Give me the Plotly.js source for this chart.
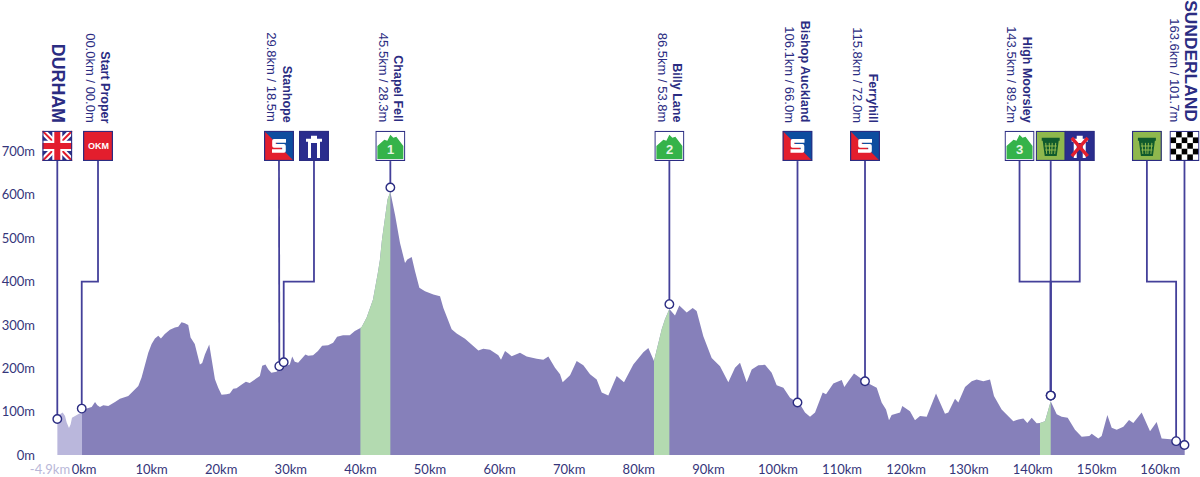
<!DOCTYPE html>
<html>
<head>
<meta charset="utf-8">
<script src="https://cdn.plot.ly/plotly-3.0.1.min.js"></script>
<style>
  html, body {margin: 0; padding: 0; background: #fff;}
  #profile {width: 1200px; height: 477px;}
</style>
</head>
<body>
<div id="profile"></div>
<script>
// route profile: x = position on the axis in km, y = metres
var km = [-3.54,-3.16,-2.78,-2.44,-2.2,-1.87,-1.63,-1.44,-1,-0.53,0,0.67,1.39,1.87,2.2,2.58,3.06,3.78,4.74,5.45,6.65,7.6,8.09,8.56,9.04,9.52,10,10.48,10.96,11.34,11.9,12.63,13.35,13.83,14.3,14.78,15.26,15.6,16.2,16.6,16.94,17.27,17.66,18.28,18.6,19.1,19.57,20.05,20.77,21.24,21.72,22.2,22.9,23.54,24.1,24.83,25.55,25.89,26.36,26.75,27.2,27.94,28.66,29.38,29.86,30.2,30.57,31.05,31.53,32.1,32.5,33.2,33.9,34.5,35.36,36.08,36.65,37.5,38.47,39.2,40,40.2,40.9,41.8,42.5,42.8,43.1,43.5,43.9,44.3,45,45.69,46.41,46.74,47.37,47.85,48.47,49.28,50.48,51.44,51.92,53.11,53.83,55.03,55.99,56.95,57.66,58.62,59.82,60.2,60.78,61.73,62.93,63.89,65.33,66.28,67,67.96,68.68,69.06,70.12,71.07,72.03,72.99,73.95,74.67,75.62,76.82,77.87,79.21,80.65,81.37,82.18,82.81,83.29,83.76,84.39,85.2,85.82,86.88,87.74,88.31,89.27,90.47,91.67,92.86,93.82,94.54,95.5,96.22,97.18,98.13,99.09,99.81,100.77,101.73,103.16,103.88,104.6,105.32,106.42,106.9,107.95,109.15,109.53,110.1,110.92,111.78,112.74,114.18,114.89,115.52,115.95,116.33,117.53,117.86,118.96,119.68,120.4,121.36,122.7,123.99,124.47,125.43,125.91,126.87,127.83,128.54,129.5,130.46,131.03,132.13,133.81,134.53,135.25,135.82,136.45,137.16,137.64,138.36,138.84,139.18,140.04,140.76,141.62,142.67,143.63,144.73,145.07,146.02,146.5,147.32,147.94,148.66,149.62,150.43,151.05,152.25,153.45,154.4,155.12,156.8,157.52,158.43];
var elevation = [82,94,98,90,75,62,71,86,90,94,99,107,111,122,115,111,115,113,122,130,136,150,159,179,209,236,256,269,275,269,279,289,294,296,306,304,300,271,256,232,209,212,232,255,221,175,155,139,140,142,153,154,162,169,166,175,182,206,209,198,190,192,202,206,209,227,215,213,221,232,229,230,240,252,253,259,273,276,276,286,293,296,317,358,420,450,497,550,590,607,552,489,443,451,457,424,386,378,370,366,339,290,280,268,254,241,245,243,230,220,240,228,236,227,222,220,227,201,186,168,184,217,207,186,174,144,137,182,168,209,237,247,217,259,290,313,337,322,345,329,339,332,274,224,205,168,201,213,168,197,207,208,190,161,155,132,117,98,88,98,144,140,165,173,157,170,188,178,167,155,121,105,80,92,98,113,101,80,90,88,142,95,98,130,121,157,170,174,170,174,136,105,78,82,84,74,86,73,74,78,105,124,94,88,86,58,42,44,49,38,44,92,63,58,65,81,74,98,55,76,38,36,31,21];

var neutralRange = [-3.54, 0];
var climbRanges = [[40, 44.3], [82.18, 84.39], [137.64, 139.18]];

// axis ticks: the printed 10km steps tighten after 100km in the source graphic
var tickPos = [-4.6,0.3,10,20,30,40,50,60,70,80,90,100,109.2,118.4,127.4,136.6,145.8,154.9];
var tickText = ['-4.9km','0km','10km','20km','30km','40km','50km','60km','70km','80km','90km','100km','110km','120km','130km','140km','150km','160km'];
var yTicks = [0,100,200,300,400,500,600,700];
var yTickText = ['0m','100m','200m','300m','400m','500m','600m','700m'];

// waypoints: where the flag sits on the axis, where its circle sits on the profile
var iconKm =  [-3.55,2.3,28.3,33.33,44.3,84.39,102.8,112.5,134.7,139.18,143.35,153,158.4];
var pointKm = [-3.55,-0.04,28.35,28.98,44.3,84.39,102.8,112.5,139.18,139.18,139.18,157.2,158.4];
var pointM =  [83,107,205,214,617,348,121,170,137,137,137,32,23];
var iconKind = ['flag','okm','sprint','tunnel','climb','climb','sprint','sprint','climb','feed','noTunnel','feed','finish'];
var climbCat = {4: '1', 5: '2', 8: '3'};

var placeNames = ['Start Proper','Stanhope','Chapel Fell','Billy Lane','Bishop Auckland','Ferryhill','High Moorsley'];
var placeDist = ['00.0km / 00.0m','29.8km / 18.5m','45.5km / 28.3m','86.5km / 53.8m','106.1km / 66.0m','115.8km / 72.0m','143.5km / 89.2m'];
var placeIcon = [1,2,4,5,6,7,8];

var NAVY = '#2b2c82', LINE = '#44409a', PURPLE = '#8680ba', GREEN = '#b3dab0', NEUTRAL = '#bab7dc';
var TICK = '#35357a';
var ELBOW = 400, ICON_TOP = 748, ICON_BOTTOM = 678, LABEL_Y = 762;

function section(range, color) {
   var x = [], y = [];
   for (var i = 0; i < km.length; i++) {
      if (km[i] >= range[0] && km[i] <= range[1]) {x.push(km[i]); y.push(elevation[i]);}
   }
   return {x: x, y: y, type: 'scatter', mode: 'lines', fill: 'tozeroy', fillcolor: color,
           line: {width: 0, color: color}, hoverinfo: 'skip'};
}

var traces = [];
traces.push(section([0, 158.43], PURPLE));
traces.push(section(neutralRange, NEUTRAL));
climbRanges.forEach(function (r) {traces.push(section(r, GREEN));});

// leader lines from each flag down to the profile
for (var i = 0; i < iconKm.length; i++) {
   var lx, ly;
   if (iconKm[i] === pointKm[i]) {
      lx = [iconKm[i], pointKm[i]];
      ly = [ICON_BOTTOM, pointM[i]];
   } else {
      lx = [iconKm[i], iconKm[i], pointKm[i], pointKm[i]];
      ly = [ICON_BOTTOM, ELBOW, ELBOW, pointM[i]];
   }
   traces.push({x: lx, y: ly, type: 'scatter', mode: 'lines', line: {color: LINE, width: 1.8}, hoverinfo: 'skip'});
}
traces.push({x: pointKm, y: pointM, type: 'scatter', mode: 'markers',
             marker: {size: 8.5, color: '#fff', line: {color: NAVY, width: 1.4}}, hoverinfo: 'skip'});

var arch = '<path d="M9 27V11H7V8H12V5H18V8H23V11H21V27H18V12H12V27Z" fill="#fff"/>';
var bin = '<path d="M6 7H24V10H23L21 25H9L7 10H6Z" fill="#0f5a2c"/>' +
          '<path d="M10 12L11 23M13.5 12L14 23M16.5 12L16 23M20 12L19 23M9 15H21M9.5 19H20.5" stroke="#8fb84d" stroke-width="1" fill="none"/>';
var sprintS = '<path d="M22 10H10V15H20V20H8" stroke="#fff" stroke-width="3.6" fill="none" stroke-linejoin="round"/>';

function checker() {
   var s = '<rect width="30" height="30" fill="#fff"/>';
   for (var r = 0; r < 5; r++) {
      for (var c = 0; c < 5; c++) {
         if ((r + c) % 2 === 1) {s += '<rect x="' + (1 + c * 5.6) + '" y="' + (1 + r * 5.6) + '" width="5.6" height="5.6" fill="#000"/>';}
      }
   }
   return s;
}

var art = {
   flag: '<rect width="30" height="30" fill="#2a2f86"/>' +
         '<path d="M0 0L30 30M30 0L0 30" stroke="#fff" stroke-width="6"/>' +
         '<path d="M0 0L30 30M30 0L0 30" stroke="#e31e2d" stroke-width="2"/>' +
         '<path d="M15 0V30M0 15H30" stroke="#fff" stroke-width="10"/>' +
         '<path d="M15 0V30M0 15H30" stroke="#e31e2d" stroke-width="6"/>',
   okm: '<rect width="30" height="30" fill="#e31e2d"/>',
   sprint: '<rect width="30" height="30" fill="#0d4d9f"/><path d="M0 0L30 30H0Z" fill="#e31e2d"/>' + sprintS,
   tunnel: '<rect width="30" height="30" fill="#2a2d8e"/>' + arch,
   climb: '<rect width="30" height="30" fill="#fff"/><path d="M2 15L9 9L12 10L15 4L18 7L21 6L28 15V28H2Z" fill="#35b34a"/>',
   feed: '<rect width="30" height="30" fill="#8fb84d"/>' + bin,
   noTunnel: '<rect width="30" height="30" fill="#2a2d8e"/>' + arch +
             '<path d="M7 7L23 25M23 7L7 25" stroke="#e31e2d" stroke-width="3.4"/>',
   finish: checker()
};

function iconSource(kind) {
   var svg = '<svg xmlns="http://www.w3.org/2000/svg" width="120" height="120" viewBox="0 0 30 30">' + art[kind] +
             '<rect x="0.6" y="0.6" width="28.8" height="28.8" fill="none" stroke="' + NAVY + '" stroke-width="1.2"/></svg>';
   return 'data:image/svg+xml;charset=utf-8,' + encodeURIComponent(svg);
}

var images = iconKind.map(function (kind, i) {
   return {source: iconSource(kind), xref: 'x', yref: 'y', x: iconKm[i], y: ICON_TOP,
           sizex: 4.31, sizey: ICON_TOP - ICON_BOTTOM, xanchor: 'center', yanchor: 'top',
           sizing: 'stretch', layer: 'above'};
});

function rotated(text, x, shift, size, weight) {
   return {text: text, x: x, y: LABEL_Y, xref: 'x', yref: 'y', xshift: shift, textangle: 90,
           xanchor: 'center', yanchor: 'bottom', showarrow: false,
           font: {size: size, color: NAVY, weight: weight, family: LABEL_FONT}};
}

var LABEL_FONT = 'Liberation Sans, Arial, sans-serif', TICK_FONT = 'Lato, sans-serif';
var notes = [];
placeNames.forEach(function (name, i) {
   var x = iconKm[placeIcon[i]];
   notes.push(rotated(name, x, 7.5, 12.5, 700));
   notes.push(rotated(placeDist[i], x, -7.5, 13, 400));
});
notes.push(rotated('DURHAM', iconKm[0], 1, 17.8, 700));
notes.push(rotated('SUNDERLAND', iconKm[12], 7, 17.4, 700));
notes.push(rotated('163.6km / 101.7m', iconKm[12], -10, 13, 400));

// text on the badges
notes.push({text: '<b>OKM</b>', x: iconKm[1], y: (ICON_TOP + ICON_BOTTOM) / 2, xref: 'x', yref: 'y', showarrow: false,
            font: {size: 9, color: '#fff', family: LABEL_FONT}});
Object.keys(climbCat).forEach(function (i) {
   notes.push({text: '<b>' + climbCat[i] + '</b>', x: iconKm[i], y: (ICON_TOP + ICON_BOTTOM) / 2 - 8, xref: 'x', yref: 'y',
               showarrow: false, font: {size: 13, color: '#e6f5e6', family: LABEL_FONT}});
});

var ticksShown = tickText.map(function (t, i) {
   return i === 0 ? '<span style="color:#b9b7d8">' + t + '</span>' : t;
});

var layout = {
   width: 1200, height: 477,
   margin: {l: 36, r: 0, t: 0, b: 21.5, pad: 0},
   paper_bgcolor: '#fff', plot_bgcolor: '#fff',
   showlegend: false,
   hovermode: false,
   xaxis: {range: [-6.61, 160.63], showgrid: false, zeroline: false, showline: false, automargin: false,
           tickmode: 'array', tickvals: tickPos, ticktext: ticksShown, ticks: 'outside', ticklen: 2,
           tickcolor: 'rgba(0,0,0,0)', tickangle: 0, tickfont: {size: 13, color: TICK, family: TICK_FONT}},
   yaxis: {range: [0, 1049.6], showgrid: false, zeroline: false, showline: false, automargin: false,
           tickmode: 'array', tickvals: yTicks, ticktext: yTickText, ticks: '',
           tickfont: {size: 13, color: TICK, family: TICK_FONT}},
   images: images,
   annotations: notes
};

Plotly.newPlot('profile', traces, layout, {displayModeBar: false, staticPlot: true});
</script>
</body>
</html>
